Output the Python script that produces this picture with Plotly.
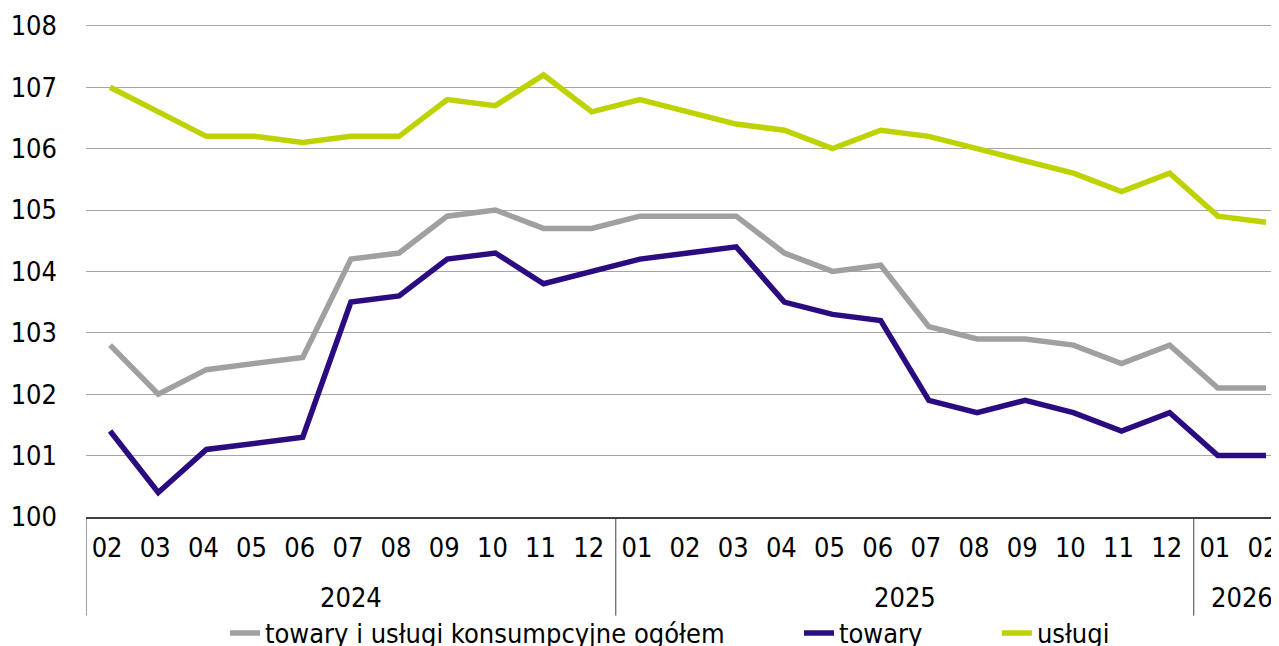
import plotly.graph_objects as go

years = ["2024"] * 11 + ["2025"] * 12 + ["2026"] * 2
months = ["02", "03", "04", "05", "06", "07", "08", "09", "10", "11", "12",
          "01", "02", "03", "04", "05", "06", "07", "08", "09", "10", "11", "12",
          "01", "02"]

ogolem = [102.8, 102.0, 102.4, 102.5, 102.6, 104.2, 104.3, 104.9, 105.0, 104.7, 104.7,
          104.9, 104.9, 104.9, 104.3, 104.0, 104.1, 103.1, 102.9, 102.9, 102.8, 102.5, 102.8,
          102.1, 102.1]
towary = [101.4, 100.4, 101.1, 101.2, 101.3, 103.5, 103.6, 104.2, 104.3, 103.8, 104.0,
          104.2, 104.3, 104.4, 103.5, 103.3, 103.2, 101.9, 101.7, 101.9, 101.7, 101.4, 101.7,
          101.0, 101.0]
uslugi = [107.0, 106.6, 106.2, 106.2, 106.1, 106.2, 106.2, 106.8, 106.7, 107.2, 106.6,
          106.8, 106.6, 106.4, 106.3, 106.0, 106.3, 106.2, 106.0, 105.8, 105.6, 105.3, 105.6,
          104.9, 104.8]

names = ["towary i usługi konsumpcyjne ogółem", "towary", "usługi"]
colors = ["#A0A0A0", "#2B0C80", "#BED200"]

FONT = "DejaVu Sans Condensed, Liberation Sans Narrow, sans-serif"
NBSP = "\u00a0"

x = list(range(len(months)))

fig = go.Figure()
for i, (name, vals, col) in enumerate(zip(names, [ogolem, towary, uslugi], colors)):
    label = name + (NBSP * 9 if i < len(names) - 1 else "")
    fig.add_trace(go.Scatter(
        x=x, y=vals, name=label, mode="lines",
        line=dict(color=col, width=5.5),
    ))

# year groups: labels centred under each group, dividers at group boundaries
groups = []
for i, yv in enumerate(years):
    if not groups or groups[-1][0] != yv:
        groups.append([yv, i, i])
    else:
        groups[-1][2] = i

annotations = []
shapes = []
for yv, a, b in groups:
    annotations.append(dict(
        x=(a + b) / 2, xref="x", y=-0.163, yref="paper", text=yv,
        showarrow=False, yanchor="middle", font=dict(size=27, family=FONT),
    ))
    shapes.append(dict(
        type="line", xref="x", yref="paper", x0=a - 0.5, x1=a - 0.5, y0=0, y1=-0.2,
        line=dict(color="#404040", width=1),
    ))

fig.update_layout(
    width=1271, height=638,
    margin=dict(l=78, r=0, t=16, b=129, autoexpand=False),
    paper_bgcolor="white", plot_bgcolor="white",
    font=dict(family=FONT, size=27, color="#000000"),
    showlegend=True,
    legend=dict(orientation="h", x=0.1165, xanchor="left", y=-0.236, yanchor="middle",
                font=dict(size=27), tracegroupgap=0, bgcolor="rgba(0,0,0,0)"),
    annotations=annotations,
    shapes=shapes,
    xaxis=dict(
        range=[-0.5, 24.27], tickvals=x, ticktext=months,
        showline=True, linecolor="#404040", linewidth=2,
        showgrid=False, zeroline=False, ticks="", ticklabelstandoff=6,
        ticklabeloverflow="allow", ticklabelshift=-3,
        tickfont=dict(size=27), automargin=False,
    ),
    yaxis=dict(
        range=[100, 108.03], tickvals=[100, 101, 102, 103, 104, 105, 106, 107, 108],
        showgrid=True, gridcolor="#A6A6A6", gridwidth=1,
        zeroline=False, ticks="", ticklabelstandoff=28,
        tickfont=dict(size=27), automargin=False,
    ),
)

fig.write_html("out.html")
